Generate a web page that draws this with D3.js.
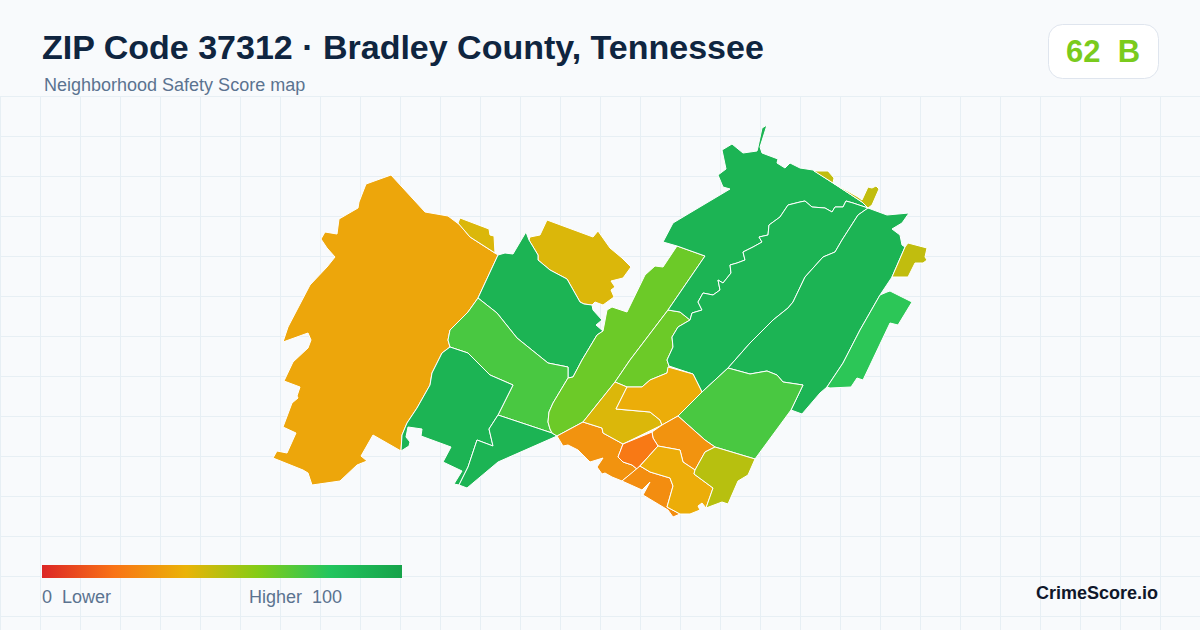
<!DOCTYPE html>
<html>
<head>
<meta charset="utf-8">
<title>ZIP Code 37312</title>
<script src="https://cdn.jsdelivr.net/npm/d3@7"></script>
<style>
  html, body { margin: 0; padding: 0; background: #f8fafc; }
  svg { display: block; font-family: "Liberation Sans", Arial, sans-serif; }
  text { white-space: pre; }
</style>
</head>
<body>
<svg id="map" width="1200" height="630"></svg>
<script>
"use strict";

// Texts
const titleText = "ZIP Code 37312 · Bradley County, Tennessee";
const subtitleText = "Neighborhood Safety Score map";
const badgeText = "62  B";
const overallScore = 62;
const legendLowText = "0  Lower";
const legendHighText = "Higher  100";
const brandText = "CrimeScore.io";

// Colour ramp, score -> colour
const rampStops = [0, 20, 40, 60, 80, 100];
const rampColors = ["#dc2626", "#f97316", "#eab308", "#84cc16", "#22c55e", "#16a34a"];

// Tract outlines (traced units, one ring per tract)
const ringWest = [[391,175],[425,212],[448,216],[460,225],[470,237],[498,255],[478,298],[468,312],[450,330],[448,340],[450,347],[442,353],[432,373],[430,385],[417,408],[407,423],[402,435],[401,451],[373,435],[361,456],[367,461],[357,465],[340,481],[312,485],[308,473],[303,470],[273,458],[277,451],[287,453],[296,433],[283,427],[292,403],[298,398],[297,396],[300,387],[284,381],[293,362],[308,348],[311,340],[308,333],[283,342],[288,327],[310,285],[327,267],[335,257],[327,248],[321,239],[325,232],[337,234],[339,219],[358,208],[359,202],[366,184]];
const ringNorthwestSliver = [[460,218],[489,229],[490,235],[494,236],[495,253],[470,237],[458,223]];
const ringNorthCap = [[547,220],[593,237],[598,231],[610,248],[622,258],[631,267],[623,278],[611,281],[615,287],[611,290],[614,297],[603,305],[595,302],[592,305],[584,304],[580,302],[567,279],[550,270],[538,260],[538,255],[529,240],[530,237],[540,235]];
const ringNorthWoods = [[526,232],[529,240],[538,255],[538,260],[550,270],[567,279],[580,302],[584,304],[592,305],[593,310],[602,320],[596,325],[603,331],[597,335],[582,360],[573,377],[568,378],[568,367],[548,363],[517,338],[497,313],[478,298],[498,255],[505,253],[513,254]];
const ringWestMiddle = [[478,298],[497,313],[517,338],[548,363],[568,367],[568,378],[553,403],[549,412],[548,422],[550,429],[552,433],[498,415],[513,385],[490,375],[480,365],[468,353],[450,347],[448,340],[450,330],[468,312]];
const ringSouthwestA = [[450,347],[468,353],[480,365],[490,375],[513,385],[498,415],[489,429],[493,446],[477,440],[472,455],[468,467],[459,485],[454,484],[462,471],[443,462],[451,447],[421,436],[422,429],[408,427],[406,437],[410,442],[409,446],[401,451],[402,435],[407,423],[417,408],[430,385],[432,373],[442,353]];
const ringSouthwestB = [[498,415],[552,433],[557,436],[498,462],[467,488],[459,485],[468,467],[472,455],[477,440],[493,446],[489,429]];
const ringLongRidge = [[677,246],[705,256],[668,310],[630,360],[615,382],[583,422],[557,436],[552,433],[550,429],[548,422],[549,412],[553,403],[568,378],[573,377],[582,360],[597,335],[603,331],[607,310],[612,307],[627,312],[645,275],[655,266],[663,267]];
const ringRidgeEast = [[668,310],[680,312],[690,320],[678,327],[672,337],[673,347],[667,360],[669,366],[667,373],[650,380],[642,387],[627,387],[615,382],[630,360]];
const ringNortheastTop = [[663,242],[673,223],[683,217],[730,189],[723,187],[718,175],[726,169],[722,150],[732,144],[743,153],[757,151],[758,147],[762,128],[767,125],[760,147],[762,153],[778,159],[777,163],[785,168],[790,163],[800,168],[813,170],[833,183],[862,202],[868,208],[853,203],[846,201],[843,207],[835,207],[832,212],[825,208],[812,207],[805,201],[800,202],[788,205],[780,217],[769,225],[768,235],[759,237],[762,242],[753,247],[743,252],[745,260],[737,263],[730,265],[731,273],[723,283],[718,280],[720,290],[713,295],[703,293],[698,302],[702,310],[692,313],[690,320],[680,312],[668,310],[705,256],[677,246]];
const ringNortheastMiddle = [[868,208],[858,215],[842,240],[835,252],[823,257],[805,277],[793,302],[788,308],[773,320],[750,343],[728,368],[702,392],[693,374],[669,366],[667,360],[673,347],[672,337],[678,327],[690,320],[692,313],[702,310],[698,302],[703,293],[713,295],[720,290],[718,280],[723,283],[731,273],[730,265],[737,263],[745,260],[743,252],[753,247],[762,242],[759,237],[768,235],[769,225],[780,217],[788,205],[800,202],[805,201],[812,207],[825,208],[832,212],[835,207],[843,207],[846,201],[853,203]];
const ringNortheastEast = [[868,208],[887,215],[909,213],[902,223],[892,229],[900,235],[902,245],[905,247],[892,277],[880,295],[860,330],[843,363],[827,387],[820,393],[802,414],[791,410],[803,385],[783,382],[777,375],[767,371],[750,374],[728,368],[750,343],[773,320],[788,308],[793,302],[805,277],[823,257],[835,252],[842,240],[858,215]];
const ringFarEastStrip = [[890,291],[912,302],[898,325],[890,323],[863,380],[857,378],[851,387],[830,388],[827,387],[843,363],[860,330],[880,295],[887,292]];
const ringFarEastNub = [[908,243],[927,248],[925,257],[927,260],[923,263],[915,263],[908,277],[892,277],[905,247]];
const ringTopSliver = [[814,171],[828,171],[834,178],[833,183],[858,197],[862,200],[868,187],[872,188],[876,186],[879,189],[872,205],[868,208],[862,202],[833,183]];
const ringCenterEast = [[702,392],[728,368],[750,374],[767,371],[777,375],[783,382],[803,385],[791,410],[755,459],[715,447],[705,440],[678,416]];
const ringSouthLeft = [[557,436],[583,422],[602,428],[603,433],[623,444],[618,457],[623,462],[632,465],[637,469],[622,481],[612,477],[605,473],[602,474],[597,467],[603,458],[590,462],[578,450],[568,445],[563,446]];
const ringCenterLeft = [[583,422],[615,382],[627,387],[616,409],[650,412],[660,420],[662,425],[623,444],[603,433],[602,428]];
const ringCenterTop = [[627,387],[642,387],[650,380],[667,373],[668,367],[693,374],[702,392],[678,416],[662,425],[660,420],[650,412],[616,409]];
const ringCenterRight = [[678,416],[705,440],[715,447],[705,452],[695,470],[683,462],[680,450],[658,446],[653,438],[652,432],[662,425]];
const ringCore = [[652,432],[653,438],[658,446],[637,469],[632,465],[623,462],[618,457],[623,444]];
const ringSouthBottom = [[622,481],[640,466],[650,472],[670,478],[673,486],[667,507],[680,514],[673,517],[668,510],[643,495],[650,482],[642,490]];
const ringSouthYellow = [[640,466],[658,446],[680,450],[683,462],[695,470],[694,474],[713,488],[706,508],[702,503],[698,506],[700,510],[690,514],[680,514],[667,507],[673,486],[670,478],[650,472]];
const ringSouthEast = [[715,447],[755,459],[748,475],[738,481],[728,504],[722,502],[706,508],[713,488],[694,474],[695,470],[705,452]];

const tractRings = [
  ringWest, ringNorthwestSliver, ringNorthCap, ringNorthWoods, ringWestMiddle,
  ringSouthwestA, ringSouthwestB, ringLongRidge, ringRidgeEast, ringNortheastTop,
  ringNortheastMiddle, ringNortheastEast, ringFarEastStrip, ringFarEastNub, ringTopSliver,
  ringCenterEast, ringSouthLeft, ringCenterLeft, ringCenterTop, ringCenterRight,
  ringCore, ringSouthBottom, ringSouthYellow, ringSouthEast,
];
const tractScores = [36, 43, 43, 90, 72, 90, 90, 65, 65, 90, 90, 90, 78, 48, 48, 72, 30, 43, 38, 30, 22, 28, 38, 50];

// Scales
const color = d3.scaleLinear().domain(rampStops).range(rampColors);
const legendX = d3.scaleLinear().domain([0, 100]).range([42, 402]);
const gridX = d3.range(0, 1201, 40);
const gridY = d3.range(96, 630, 40);

const svg = d3.select("#map");

// Gradient for the legend bar
const gradient = svg.append("defs").append("linearGradient").attr("id", "ramp");
gradient
  .selectAll("stop")
  .data(rampStops)
  .enter()
  .append("stop")
  .attr("offset", (d) => `${d}%`)
  .attr("stop-color", (d) => color(d));

// Background grid, starts under the header
svg
  .append("g")
  .attr("stroke", "#e7eff4")
  .attr("stroke-width", 1)
  .call((g) =>
    g
      .selectAll(".v")
      .data(gridX)
      .enter()
      .append("line")
      .attr("x1", (d) => d + 0.5)
      .attr("x2", (d) => d + 0.5)
      .attr("y1", 96)
      .attr("y2", 630)
  )
  .call((g) =>
    g
      .selectAll(".h")
      .data(gridY)
      .enter()
      .append("line")
      .attr("x1", 0)
      .attr("x2", 1200)
      .attr("y1", (d) => d + 0.5)
      .attr("y2", (d) => d + 0.5)
  );

// Tracts
const path = d3.geoPath(d3.geoIdentity());
svg
  .append("g")
  .selectAll("path")
  .data(tractRings)
  .enter()
  .append("path")
  .attr("d", (d) => path({ type: "Polygon", coordinates: [d.concat([d[0]])] }))
  .attr("fill", (d, i) => color(tractScores[i]))
  .attr("stroke", "#fff")
  .attr("stroke-width", 1)
  .attr("stroke-linejoin", "round");

// Header
svg
  .append("text")
  .attr("x", 42)
  .attr("y", 59)
  .attr("font-size", 34)
  .attr("font-weight", 700)
  .attr("fill", "#0f2540")
  .text(titleText);

svg
  .append("text")
  .attr("x", 44)
  .attr("y", 91)
  .attr("font-size", 18)
  .attr("fill", "#5b7390")
  .text(subtitleText);

// Score badge
svg
  .append("rect")
  .attr("x", 1048.5)
  .attr("y", 24.5)
  .attr("width", 110)
  .attr("height", 54)
  .attr("rx", 14)
  .attr("fill", "#fff")
  .attr("stroke", "#dfe5ee");

svg
  .append("text")
  .attr("x", 1103)
  .attr("y", 62)
  .attr("text-anchor", "middle")
  .attr("font-size", 31)
  .attr("font-weight", 700)
  .attr("fill", color(overallScore))
  .text(badgeText);

// Legend
svg
  .append("rect")
  .attr("x", legendX(0))
  .attr("y", 565)
  .attr("width", legendX(100) - legendX(0))
  .attr("height", 13)
  .attr("fill", "url(#ramp)");

svg
  .append("text")
  .attr("x", legendX(0))
  .attr("y", 603)
  .attr("font-size", 18)
  .attr("fill", "#5b7390")
  .text(legendLowText);

svg
  .append("text")
  .attr("x", 249)
  .attr("y", 603)
  .attr("font-size", 18)
  .attr("fill", "#5b7390")
  .text(legendHighText);

svg
  .append("text")
  .attr("x", 1158)
  .attr("y", 599)
  .attr("text-anchor", "end")
  .attr("font-size", 18)
  .attr("font-weight", 700)
  .attr("fill", "#0f172a")
  .text(brandText);
</script>
</body>
</html>
